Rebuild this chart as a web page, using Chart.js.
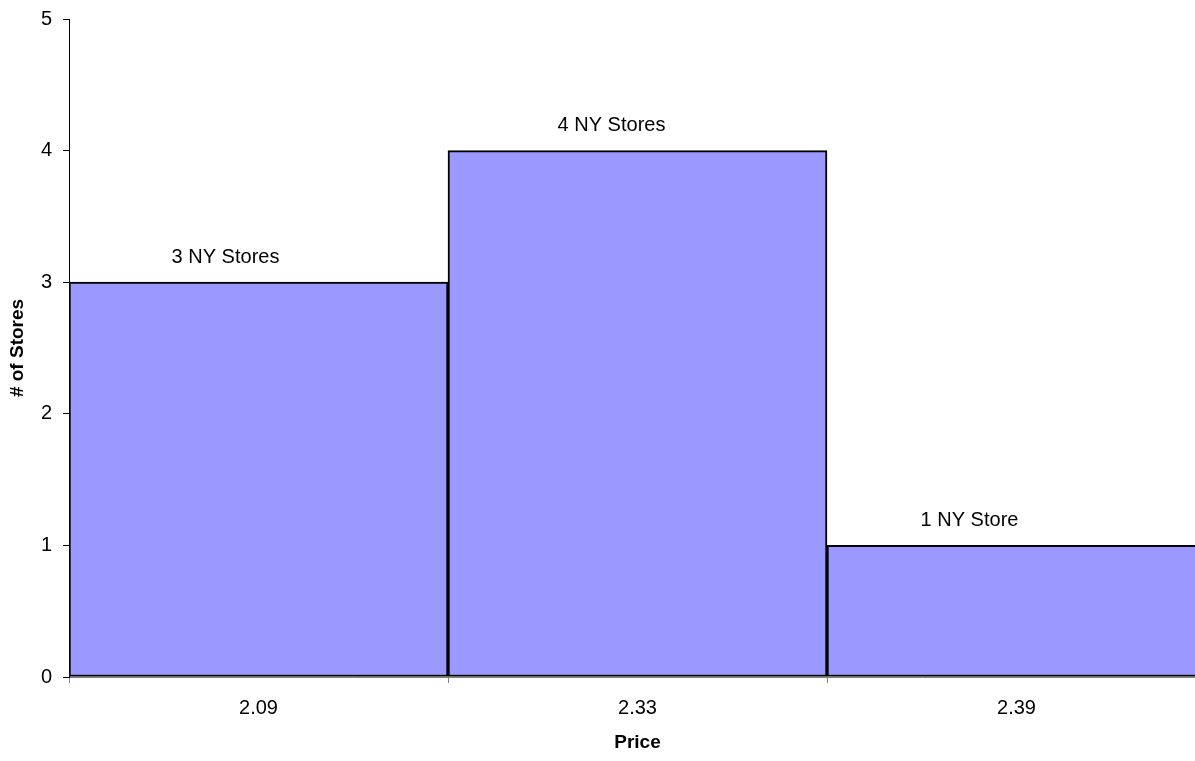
<!DOCTYPE html>
<html>
<head>
<meta charset="utf-8">
<script src="https://cdn.jsdelivr.net/npm/chart.js@4"></script>
<style>
  html, body { margin: 0; padding: 0; background: #fff; overflow: hidden; }
  #wrap { width: 1206px; height: 765px; position: relative; margin-top: -4px; }
</style>
</head>
<body>
<div id="wrap"><canvas id="myChart"></canvas></div>
<script>
const prices = ["2.09", "2.33", "2.39"];
const storeCounts = [3, 4, 1];
const barLabels = ["3 NY Stores", "4 NY Stores", "1 NY Store"];
const yTicks = [0, 1, 2, 3, 4, 5];

const FONT = "'Liberation Sans', Arial, sans-serif";

// text above each bar (placed a bit left of centre, like the original)
const labelShift = [-33, -26, -47];
const barLabelPlugin = {
  id: "barLabels",
  afterDatasetsDraw(chart) {
    const ctx = chart.ctx;
    const meta = chart.getDatasetMeta(0);
    ctx.save();
    ctx.font = `20px ${FONT}`;
    ctx.fillStyle = "#000";
    ctx.textAlign = "center";
    ctx.textBaseline = "middle";
    meta.data.forEach((bar, i) => {
      ctx.fillText(barLabels[i], bar.x + labelShift[i], bar.y - 25);
    });
    ctx.restore();
  },
};

const ctx = document.getElementById("myChart").getContext("2d");
const myChart = new Chart(ctx, {
  type: "bar",
  data: {
    labels: prices,
    datasets: [
      {
        data: storeCounts,
        backgroundColor: "#9999FF",
        borderColor: "#000",
        borderWidth: 2,
        borderSkipped: false,
        categoryPercentage: 1,
        barPercentage: 1,
      },
    ],
  },
  options: {
    responsive: true,
    maintainAspectRatio: false,
    animation: false,
    layout: { padding: { top: 12, right: 0, left: 0, bottom: 0 } },
    plugins: {
      legend: { display: false },
      tooltip: { enabled: false },
    },
    scales: {
      x: {
        offset: true,
        grid: {
          offset: true,
          drawOnChartArea: false,
          tickLength: 6,
          color: "#808080",
        },
        border: { color: "#808080", width: 1 },
        ticks: { color: "#000", font: { family: FONT, size: 20 }, padding: 13 },
        title: {
          display: true,
          text: "Price",
          color: "#000",
          font: { family: FONT, size: 19, weight: "bold" },
          padding: { top: 10, bottom: 7 },
        },
        afterFit(scale) {
          scale.height = 84;
        },
      },
      y: {
        min: 0,
        max: 5,
        afterBuildTicks(scale) {
          scale.ticks = yTicks.map((v) => ({ value: v }));
        },
        grid: {
          drawOnChartArea: false,
          tickLength: 6,
          color: "#000",
        },
        border: { color: "#000", width: 1 },
        ticks: { color: "#000", font: { family: FONT, size: 20 }, padding: 11 },
        title: {
          display: true,
          text: "# of Stores",
          color: "#000",
          font: { family: FONT, size: 19, weight: "bold" },
          padding: { top: 6, bottom: 4 },
        },
        afterFit(scale) {
          scale.width = 69;
        },
      },
    },
  },
  plugins: [barLabelPlugin],
});
</script>
</body>
</html>
